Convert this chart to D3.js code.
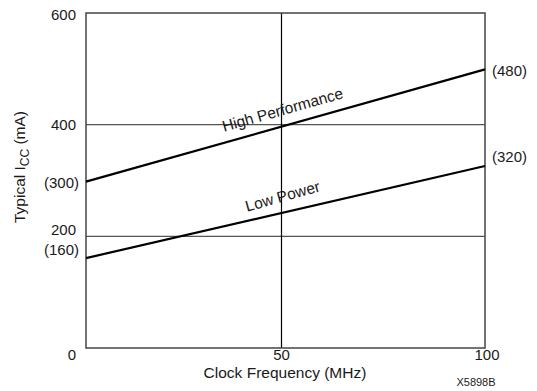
<!DOCTYPE html>
<meta charset="utf-8">
<head>
  <title>Typical ICC vs clock frequency</title>
</head>
<style>
body {
  margin: 0;
  background: #fff;
  font-family: "Liberation Sans", Arial, Helvetica, sans-serif;
}
text { fill: #1a1a1a; }
</style>
<body>
<script src="https://cdn.jsdelivr.net/npm/d3@7"></script>
<script>

// data
var freq = [0, 100];
var highPerf = [298, 499];
var lowPower = [161, 326];
var leftLabels = ["(300)", "(160)"];
var rightLabels = ["(480)", "(320)"];
var yTicks = [0, 200, 400, 600];
var xTicks = [0, 50, 100];

var w = 537, h = 391;

var svg = d3.select("body").append("svg")
  .attr("width", w)
  .attr("height", h);

// x axis in the figure is drawn a bit off-centre at 50
var x = d3.scaleLinear().domain([0, 50, 100]).range([86, 281.5, 485]);
var y = d3.scaleLinear().domain([0, 600]).range([348, 13]);

// grid lines
svg.selectAll(".hgrid")
  .data(yTicks.filter(function(d) { return d > 0 && d < 600; }))
  .enter().append("line")
  .attr("x1", x(0)).attr("x2", x(100))
  .attr("y1", function(d) { return y(d); })
  .attr("y2", function(d) { return y(d); })
  .attr("stroke", "#555")
  .attr("stroke-width", 1.2);

svg.append("line")
  .attr("x1", x(50)).attr("x2", x(50))
  .attr("y1", y(600)).attr("y2", y(0))
  .attr("stroke", "#000")
  .attr("stroke-width", 1.2);

// frame
svg.append("rect")
  .attr("x", x(0)).attr("y", y(600))
  .attr("width", x(100) - x(0))
  .attr("height", y(0) - y(600))
  .attr("fill", "none")
  .attr("stroke", "#444")
  .attr("stroke-width", 1.5);

// the two curves
var line = d3.line()
  .x(function(d, i) { return x(freq[i]); })
  .y(function(d) { return y(d); });

[highPerf, lowPower].forEach(function(s) {
  svg.append("path")
    .attr("d", line(s))
    .attr("fill", "none")
    .attr("stroke", "#000")
    .attr("stroke-width", 2.2);
});

// y tick labels
var yOff = {0: 7, 200: -7, 400: 0, 600: 2};
svg.selectAll(".ytick")
  .data(yTicks)
  .enter().append("text")
  .attr("x", 76)
  .attr("y", function(d) { return y(d) + yOff[d]; })
  .attr("dy", "0.35em")
  .attr("text-anchor", "end")
  .attr("font-size", 15)
  .text(function(d) { return d; });

// x tick labels (0 shares the corner with the y axis)
svg.selectAll(".xtick")
  .data(xTicks.filter(function(d) { return d > 0; }))
  .enter().append("text")
  .attr("x", function(d) { return x(d) + (d == 100 ? 2 : 0); })
  .attr("y", 360)
  .attr("text-anchor", "middle")
  .attr("font-size", 15)
  .text(function(d) { return d; });

// end value labels
svg.selectAll(".lab-left")
  .data(leftLabels)
  .enter().append("text")
  .attr("x", 79)
  .attr("y", function(d, i) { return y([highPerf, lowPower][i][0]) + (i ? -8 : 1); })
  .attr("dy", "0.35em")
  .attr("text-anchor", "end")
  .attr("font-size", 15)
  .text(function(d) { return d; });

svg.selectAll(".lab-right")
  .data(rightLabels)
  .enter().append("text")
  .attr("x", 492)
  .attr("y", function(d, i) { return y([highPerf, lowPower][i][1]) + (i ? -9 : 1); })
  .attr("dy", "0.35em")
  .attr("font-size", 15)
  .text(function(d) { return d; });

// series names along the lines
var ang = Math.atan2(y(highPerf[1]) - y(highPerf[0]), x(100) - x(0)) * 180 / Math.PI;
[["High Performance", highPerf], ["Low Power", lowPower]].forEach(function(p) {
  var s = p[1];
  var cx = 284, cy = y(s[0] + (s[1] - s[0]) * (cx - x(0)) / (x(100) - x(0))) - 11;
  svg.append("text")
    .attr("transform", "translate(" + cx + "," + cy + ") rotate(" + ang + ")")
    .attr("text-anchor", "middle")
    .attr("font-size", 15.5)
    .text(p[0]);
});

// axis titles
svg.append("text")
  .attr("x", 285)
  .attr("y", 378)
  .attr("text-anchor", "middle")
  .attr("font-size", 15.5)
  .text("Clock Frequency (MHz)");

var yt = svg.append("text")
  .attr("transform", "translate(25,167) rotate(-90)")
  .attr("text-anchor", "middle")
  .attr("font-size", 15.5);
yt.append("tspan").text("Typical I");
yt.append("tspan").attr("dy", 4).attr("font-size", 12).text("CC");
yt.append("tspan").attr("dy", -4).text(" (mA)");

svg.append("text")
  .attr("x", 476)
  .attr("y", 386)
  .attr("text-anchor", "middle")
  .attr("font-size", 11)
  .text("X5898B");

</script>
</body>
</html>
